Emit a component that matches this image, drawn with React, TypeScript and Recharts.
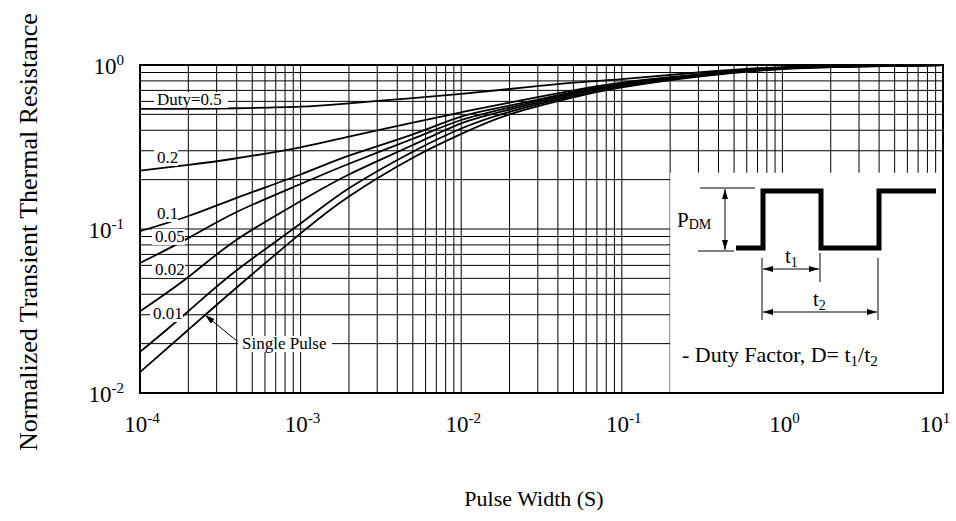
import React from 'react';
import { LineChart, Line, XAxis, YAxis, CartesianGrid, ReferenceArea } from 'recharts';

const SERIF = '"Liberation Serif", "Times New Roman", serif';

// pulse width (s) and normalized Zth for each duty cycle
const pulseWidth = [1e-4, 2e-4, 4e-4, 1e-3, 2e-3, 5e-3, 1e-2, 2e-2, 5e-2, 1e-1, 3e-1, 1, 3, 10];
const duty05 = [0.54, 0.54, 0.545, 0.557, 0.584, 0.628, 0.666, 0.714, 0.78, 0.82, 0.9, 0.97, 0.99, 1.0];
const duty02 = [0.227, 0.246, 0.27, 0.315, 0.366, 0.446, 0.515, 0.59, 0.7, 0.78, 0.875, 0.96, 0.985, 1.0];
const duty01 = [0.097, 0.12, 0.155, 0.215, 0.28, 0.378, 0.484, 0.565, 0.685, 0.768, 0.87, 0.957, 0.985, 1.0];
const duty005 = [0.062, 0.088, 0.127, 0.188, 0.25, 0.355, 0.462, 0.55, 0.673, 0.757, 0.865, 0.955, 0.983, 1.0];
const duty002 = [0.0315, 0.051, 0.086, 0.148, 0.215, 0.325, 0.441, 0.535, 0.662, 0.748, 0.86, 0.952, 0.982, 1.0];
const duty001 = [0.0178, 0.0315, 0.056, 0.108, 0.177, 0.296, 0.41, 0.518, 0.648, 0.739, 0.855, 0.95, 0.98, 1.0];
const singlePulse = [0.0134, 0.0243, 0.044, 0.094, 0.158, 0.272, 0.38, 0.5, 0.635, 0.73, 0.85, 0.945, 0.978, 1.0];

const xDecades = [1e-4, 1e-3, 1e-2, 1e-1, 1, 10];
const xExponents = ['-4', '-3', '-2', '-1', '0', '1'];
const yDecades = [0.01, 0.1, 1];
const yExponents = ['-2', '-1', '0'];

const seriesKeys = ['d05', 'd02', 'd01', 'd005', 'd002', 'd001', 'single'];

const rows = pulseWidth.map((x, i) => ({
  x,
  d05: duty05[i],
  d02: duty02[i],
  d01: duty01[i],
  d005: duty005[i],
  d002: duty002[i],
  d001: duty001[i],
  single: singlePulse[i],
}));

// 1..9 in each decade, for the log grid
const minorTicks = (decades: number[]) => {
  const out: number[] = [];
  decades.forEach((d, i) => {
    if (i === decades.length - 1) {
      out.push(d);
      return;
    }
    for (let m = 1; m <= 9; m++) out.push(m * d);
  });
  return out;
};

const xTicks = minorTicks(xDecades);
const yTicks = minorTicks(yDecades);

const decadeIndex = (list: number[], v: number) =>
  list.findIndex((d) => Math.abs(d - v) / d < 1e-6);

const XTick = (props: any) => {
  const { x, y, payload } = props;
  const i = decadeIndex(xDecades, payload.value);
  if (i < 0) return <g />;
  const last = i === xDecades.length - 1;
  return (
    <text x={last ? x - 8 : x + 2} y={y + 39} textAnchor="middle" fontFamily={SERIF} fontSize={23} fill="#000">
      10<tspan dy={-9} fontSize={15}>{xExponents[i]}</tspan>
    </text>
  );
};

const YTick = (props: any) => {
  const { x, y, payload } = props;
  const i = decadeIndex(yDecades, payload.value);
  if (i < 0) return <g />;
  return (
    <text x={x - 16} y={y + 9} textAnchor="end" fontFamily={SERIF} fontSize={23} fill="#000">
      10<tspan dy={-9} fontSize={15}>{yExponents[i]}</tspan>
    </text>
  );
};

const curveLabels = [
  { text: 'Duty=0.5', x: 157, y: 105, w: 74 },
  { text: '0.2', x: 157, y: 163, w: 24 },
  { text: '0.1', x: 157, y: 219, w: 24 },
  { text: '0.05', x: 155, y: 242, w: 33 },
  { text: '0.02', x: 155, y: 275, w: 33 },
  { text: '0.01', x: 153, y: 319, w: 33 },
];

const Overlay = () => (
  <svg
    width={956}
    height={521}
    style={{ position: 'absolute', left: 0, top: 0, pointerEvents: 'none' }}
    fontFamily={SERIF}
  >
    <defs>
      <marker id="ah" viewBox="0 0 10 6" refX="10" refY="3" markerWidth="10" markerHeight="6" markerUnits="userSpaceOnUse" orient="auto-start-reverse">
        <path d="M0,0 L10,3 L0,6 z" fill="#000" />
      </marker>
    </defs>

    <rect x={140} y={65} width={803} height={328} fill="none" stroke="#000" strokeWidth={2} />

    {curveLabels.map((l) => (
      <g key={l.text}>
        <rect x={l.x - 3} y={l.y - 13} width={l.w} height={16} fill="#fff" />
        <text x={l.x} y={l.y} fontSize={17} fill="#000">{l.text}</text>
      </g>
    ))}

    <rect x={238} y={336} width={94} height={16} fill="#fff" />
    <text x={242} y={349} fontSize={17} fill="#000">Single Pulse</text>
    <line x1={237} y1={341} x2={205} y2={315} stroke="#000" strokeWidth={1} markerEnd="url(#ah)" />

    {/* duty factor inset */}
    <polyline
      points="736,248 763,248 763,191 821,191 821,248 879,248 879,191 936,191"
      fill="none"
      stroke="#000"
      strokeWidth={5}
      strokeLinejoin="miter"
    />
    <line x1={700} y1={188} x2={755} y2={188} stroke="#000" strokeWidth={1} />
    <line x1={698} y1={251} x2={734} y2={251} stroke="#000" strokeWidth={1} />
    <line x1={725} y1={189} x2={725} y2={250} stroke="#000" strokeWidth={1} markerStart="url(#ah)" markerEnd="url(#ah)" />
    <text x={677} y={227} fontSize={21} fill="#000">
      P<tspan fontSize={14} dy={2}>DM</tspan>
    </text>

    <line x1={762} y1={258} x2={762} y2={320} stroke="#000" strokeWidth={1} />
    <line x1={820} y1={253} x2={820} y2={282} stroke="#000" strokeWidth={1} />
    <line x1={878} y1={258} x2={878} y2={320} stroke="#000" strokeWidth={1} />
    <line x1={763} y1={269} x2={819} y2={269} stroke="#000" strokeWidth={1} markerStart="url(#ah)" markerEnd="url(#ah)" />
    <line x1={763} y1={312} x2={877} y2={312} stroke="#000" strokeWidth={1} markerStart="url(#ah)" markerEnd="url(#ah)" />
    <text x={785} y={263} fontSize={21} fill="#000">
      t<tspan fontSize={14} dy={4}>1</tspan>
    </text>
    <text x={813} y={306} fontSize={21} fill="#000">
      t<tspan fontSize={14} dy={4}>2</tspan>
    </text>
    <text x={682} y={362} fontSize={22} fill="#000">
      - Duty Factor, D= t<tspan fontSize={15} dy={4}>1</tspan>
      <tspan dy={-4}>/t</tspan>
      <tspan fontSize={15} dy={4}>2</tspan>
    </text>

    <text x={534} y={506} textAnchor="middle" fontSize={22} fill="#000">Pulse Width (S)</text>
    <text
      x={0}
      y={0}
      transform="translate(37,232) rotate(-90)"
      textAnchor="middle"
      fontSize={26}
      fill="#000"
    >
      Normalized Transient Thermal Resistance
    </text>
  </svg>
);

const App: React.FC = () => (
  <div style={{ position: 'relative', width: 956, height: 521, background: '#fff' }}>
    <style>{'body{margin:0}'}</style>
    <LineChart width={956} height={521} data={rows} margin={{ top: 65, right: 13, bottom: 0, left: 0 }}>
      <CartesianGrid stroke="#000" strokeWidth={1} />
      <XAxis
        dataKey="x"
        type="number"
        scale="log"
        domain={[1e-4, 10]}
        ticks={xTicks}
        interval={0}
        allowDataOverflow
        height={128}
        tickSize={0}
        tickMargin={0}
        tickLine={false}
        axisLine={false}
        tick={<XTick />}
      />
      <YAxis
        type="number"
        scale="log"
        domain={[0.01, 1]}
        ticks={yTicks}
        interval={0}
        allowDataOverflow
        width={140}
        tickSize={0}
        tickMargin={0}
        tickLine={false}
        axisLine={false}
        tick={<YTick />}
      />
      <ReferenceArea x1={0.2} x2={10} y1={0.01} y2={0.22} fill="#fff" fillOpacity={1} stroke="none" />
      {seriesKeys.map((k) => (
        <Line
          key={k}
          dataKey={k}
          type="natural"
          stroke="#000"
          strokeWidth={1.8}
          dot={false}
          activeDot={false}
          isAnimationActive={false}
        />
      ))}
    </LineChart>
    <Overlay />
  </div>
);

export default App;
